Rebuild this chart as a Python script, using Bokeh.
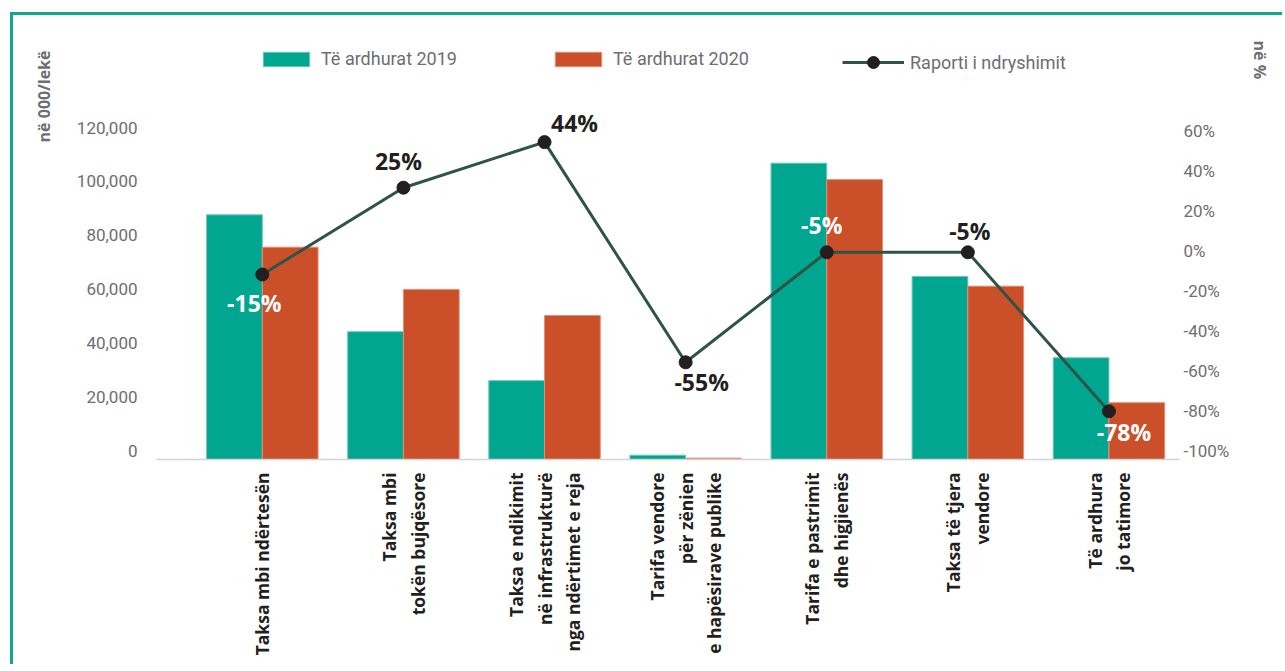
import math
import numpy as np
from bokeh.plotting import figure
from bokeh.models import (ColumnDataSource, Range1d, LinearAxis, FixedTicker,
                          PrintfTickFormatter, Legend, LegendItem, Title)
from bokeh.core.properties import value
from bokeh.embed import file_html
from bokeh.resources import INLINE

# ---------------- data ----------------
categories = [
    "Taksa mbi ndërtesën",
    "Taksa mbi\ntokën bujqësore",
    "Taksa e ndikimit\nnë infrastrukturë\nnga ndërtimet e reja",
    "Tarifa vendore\npër zënien\ne hapësirave publike",
    "Tarifa e pastrimit\ndhe higjienës",
    "Taksa të tjera\nvendore",
    "Të ardhura\njo tatimore",
]
revenue_2019 = [90900, 47500, 29300, 1600, 110100, 68000, 37800]
revenue_2020 = [78900, 63200, 53500, 500, 104000, 64400, 21100]
change_ratio = [-12.0, 31.4, 54.2, -55.9, -0.9, -0.9, -80.4]
change_labels = ["-15%", "25%", "44%", "-55%", "-5%", "-5%", "-78%"]
left_ticks = [0, 20000, 40000, 60000, 80000, 100000, 120000]
right_ticks = [-100, -80, -60, -40, -20, 0, 20, 40, 60]
series_names = ["Të ardhurat 2019", "Të ardhurat 2020", "Raporti i ndryshimit"]
left_title = "në 000/lekë"
right_title = "në %"

# ---------------- style ----------------
TEAL = "#00a68f"
ORANGE = "#cb5029"
LINE = "#2d5447"
DOT = "#231f20"
GRAY = "#6d6e71"
DARK = "#231f20"
TICKFONT = "Roboto"
BOLD = "Open Sans"

label_dx = [-8, -5, 30, 16, -5, 2, 15]
label_dy = [28, -27, -19, 20, -27, -21, 21]
label_colors = ["white", DARK, DARK, DARK, "white", DARK, "white"]

idx = np.arange(len(categories))
bar_w = 0.395

p = figure(width=1272, height=652,
           x_range=Range1d(-0.75, 6.5), y_range=Range1d(0, 159400),
           output_backend="svg", toolbar_location=None,
           min_border_left=143, min_border_right=102,
           min_border_top=15, min_border_bottom=208)
p.styles = {"border-left": "3px solid #14a590", "border-top": "3px solid #14a590",
            "margin-left": "10px", "margin-top": "12px"}
p.outline_line_color = None
p.xgrid.visible = False
p.ygrid.visible = False
p.background_fill_color = "white"
p.border_fill_color = "white"

p.extra_y_ranges = {"pct": Range1d(-104.5, 110)}

src = ColumnDataSource(dict(x19=idx - bar_w / 2, x20=idx + bar_w / 2,
                            v19=revenue_2019, v20=revenue_2020,
                            xi=idx, r=change_ratio, lab=change_labels,
                            dx=label_dx, dy=label_dy, tc=label_colors))

b19 = p.vbar(x="x19", top="v19", width=bar_w, bottom=0, source=src,
             fill_color=TEAL, line_color="#6cc9b8", line_width=1)
b20 = p.vbar(x="x20", top="v20", width=bar_w, bottom=0, source=src,
             fill_color=ORANGE, line_color="#e28f74", line_width=1)

ln = p.line(x="xi", y="r", source=src, y_range_name="pct",
            line_color=LINE, line_width=3)
dots = p.scatter(x="xi", y="r", source=src, y_range_name="pct",
                 size=13, fill_color=DOT, line_color=DOT)
p.text(x="xi", y="r", text="lab", source=src, y_range_name="pct",
       x_offset="dx", y_offset="dy", text_color="tc",
       text_font=value(BOLD), text_font_style="bold", text_font_size="23px",
       text_align="center", text_baseline="middle")


def plain_axis(ax):
    ax.axis_line_color = None
    ax.major_tick_line_color = None
    ax.minor_tick_line_color = None
    ax.major_tick_out = 0
    ax.major_tick_in = 0
    ax.minor_tick_out = 0


# left axis (labels sit slightly above their ticks, as in the reference)
ya = p.yaxis[0]
ya.ticker = FixedTicker(ticks=left_ticks)
ya.major_label_overrides = {t: f"{t:,}\n" for t in left_ticks}
plain_axis(ya)
ya.major_label_standoff = 19
ya.major_label_text_font = TICKFONT
ya.major_label_text_font_size = "17px"
ya.major_label_text_line_height = 0.9
ya.major_label_text_color = GRAY

# right axis
ra = LinearAxis(y_range_name="pct", ticker=FixedTicker(ticks=right_ticks),
                formatter=PrintfTickFormatter(format="%d%%"))
plain_axis(ra)
ra.major_label_standoff = 4
ra.major_label_text_font = TICKFONT
ra.major_label_text_font_size = "17px"
ra.major_label_text_color = GRAY
p.add_layout(ra, "right")

# unit titles at the top of each side
p.add_layout(Title(text=left_title, align="right", offset=20, standoff=34,
                   vertical_align="top",
                   text_font=BOLD, text_font_style="bold", text_font_size="16px",
                   text_color=GRAY), "left")
p.add_layout(Title(text=right_title, align="left", offset=10, standoff=29,
                   vertical_align="top",
                   text_font=BOLD, text_font_style="bold", text_font_size="16px",
                   text_color=GRAY), "right")

# x axis
xa = p.xaxis[0]
xa.ticker = FixedTicker(ticks=list(idx))
xa.major_label_overrides = {int(i): c for i, c in zip(idx, categories)}
xa.major_label_orientation = math.pi / 2
plain_axis(xa)
xa.axis_line_color = "#d4d4d4"
xa.axis_line_width = 1.5
xa.major_label_standoff = 13
xa.major_label_text_font = BOLD
xa.major_label_text_font_style = "bold"
xa.major_label_text_font_size = "17.5px"
xa.major_label_text_color = DARK


def make_legend(item, loc, gw, gh):
    lg = Legend(items=[item], location=loc, orientation="horizontal",
                glyph_width=gw, glyph_height=gh, label_standoff=6,
                padding=0, margin=0, spacing=0,
                border_line_color=None, background_fill_alpha=0,
                label_text_font=TICKFONT, label_text_font_size="18px",
                label_text_color=GRAY)
    p.add_layout(lg)


make_legend(LegendItem(label=series_names[0], renderers=[b19]), (101, 390), 58, 18)
make_legend(LegendItem(label=series_names[1], renderers=[b20]), (393, 390), 58, 18)
make_legend(LegendItem(label=series_names[2], renderers=[ln, dots]), (686, 382), 62, 30)

open("out.html", "w").write(file_html(p, INLINE))
